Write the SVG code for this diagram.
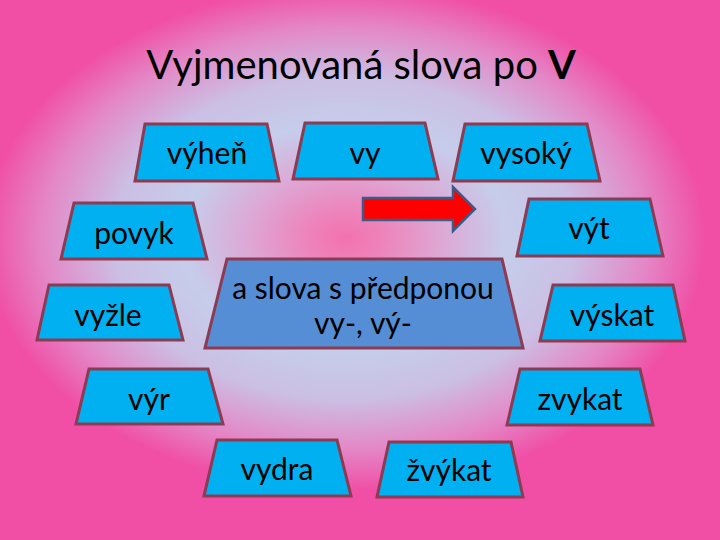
<svg xmlns="http://www.w3.org/2000/svg" width="720" height="540" viewBox="0 0 720 540">
  <defs>
    <radialGradient id="bg" gradientUnits="userSpaceOnUse" cx="345" cy="238" r="360" gradientTransform="translate(345 238) scale(1 0.7) translate(-345 -238)">
      <stop offset="0" stop-color="#F272AE"/>
      <stop offset="0.1" stop-color="#EE82BA"/>
      <stop offset="0.27" stop-color="#DDA8D5"/>
      <stop offset="0.45" stop-color="#C6CDEB"/>
      <stop offset="0.64" stop-color="#CBBFE4"/>
      <stop offset="0.84" stop-color="#E487C6"/>
      <stop offset="1" stop-color="#F04FA5"/>
    </radialGradient>
    <style>
      .box { fill: #00B0F0; stroke: #8E3B52; stroke-width: 3; stroke-linejoin: miter; }
      .main { fill: #558ED5; stroke: #8E3B52; stroke-width: 3; }
      .lbl { font-family: Lato, "Open Sans", "Liberation Sans", sans-serif; font-size: 30px; fill: #000000; text-anchor: middle; }
      .title { font-family: Lato, "Open Sans", "Liberation Sans", sans-serif; font-size: 40px; fill: #000000; text-anchor: middle; }
    </style>
  </defs>
  <rect x="0" y="0" width="720" height="540" fill="url(#bg)"/>
  <text class="title" x="361" y="79">Vyjmenovaná slova po <tspan font-weight="bold">V</tspan></text>

  <g id="vyhen"><polygon class="box" points="145,124 267,124 279,181 135,181"/><text class="lbl" x="207" y="164">výheň</text></g>
  <g id="vy"><polygon class="box" points="305,123 425,123 438,179 293,179"/><text class="lbl" x="365" y="164">vy</text></g>
  <g id="vysoky"><polygon class="box" points="465,124 587,124 600,181 453,181"/><text class="lbl" x="526" y="164">vysoký</text></g>
  <g id="povyk"><polygon class="box" points="74,203 193,203 207,259 61,259"/><text class="lbl" x="134" y="244">povyk</text></g>
  <g id="vyt"><polygon class="box" points="529,199 650,199 663,256 517,256"/><text class="lbl" x="589" y="239">výt</text></g>
  <g id="vyzle"><polygon class="box" points="49,285 169,285 183,340 37,340"/><text class="lbl" x="108" y="326">vyžle</text></g>
  <g id="vyskat"><polygon class="box" points="553,285 673,285 685,341 540,341"/><text class="lbl" x="612" y="326">výskat</text></g>
  <g id="center"><polygon class="main" points="227,259 502,259 523,348 205,348"/><text class="lbl" x="363" y="299">a slova s předponou</text><text class="lbl" x="363" y="334">vy-, vý-</text></g>
  <g id="vyr"><polygon class="box" points="89,369 208,369 223,424 76,424"/><text class="lbl" x="149" y="410">výr</text></g>
  <g id="zvykat"><polygon class="box" points="520,369 640,369 653,425 507,425"/><text class="lbl" x="580" y="410">zvykat</text></g>
  <g id="vydra"><polygon class="box" points="217,440 337,440 351,496 204,496"/><text class="lbl" x="277" y="480">vydra</text></g>
  <g id="zvykat2"><polygon class="box" points="389,442 511,442 523,497 377,497"/><text class="lbl" x="449" y="481">žvýkat</text></g>

  <g id="arrow">
    <polygon points="363,198 453,198 453,187 475,209 453,231 453,220 363,220" fill="#FF0000" stroke="#385D8A" stroke-width="2.5" stroke-linejoin="miter"/>
  </g>
</svg>
